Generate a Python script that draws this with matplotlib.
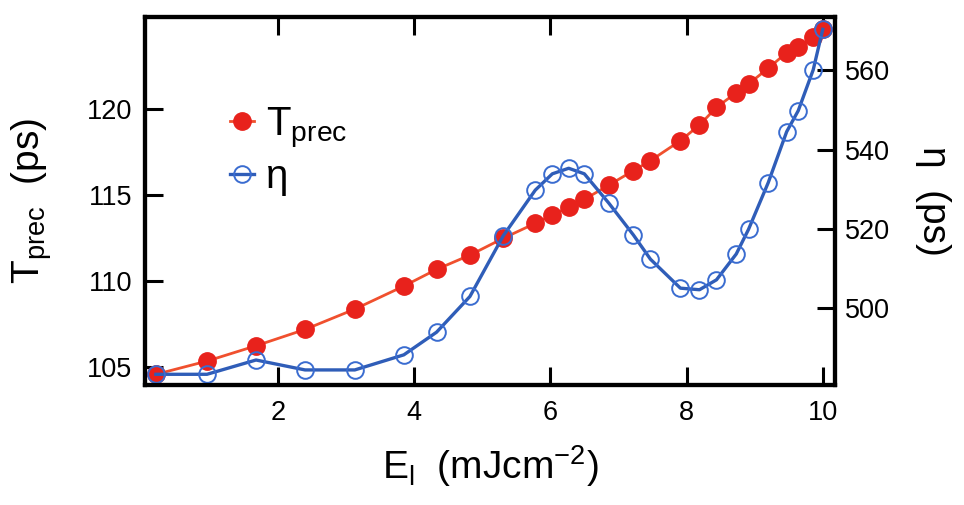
import matplotlib
matplotlib.use('Agg')
import matplotlib.pyplot as plt

plt.rcParams['font.family'] = ['Liberation Sans', 'DejaVu Sans']
plt.rcParams['mathtext.fontset'] = 'custom'
plt.rcParams['mathtext.rm'] = 'Liberation Sans'
plt.rcParams['mathtext.it'] = 'Liberation Sans:italic'

# laser fluence (mJ/cm^2), shared by both series
E_l = [0.21, 0.96, 1.68, 2.40, 3.13, 3.85, 4.33, 4.82, 5.31, 5.78, 6.03, 6.27, 6.50,
       6.86, 7.22, 7.47, 7.91, 8.19, 8.44, 8.73, 8.91, 9.20, 9.47, 9.64, 9.86, 10.00]
# precession period (ps), left axis
T_prec = [104.56, 105.33, 106.22, 107.17, 108.35, 109.69, 110.66, 111.49, 112.47,
          113.34, 113.82, 114.27, 114.73, 115.56, 116.40, 116.98, 118.14, 119.05,
          120.08, 120.93, 121.44, 122.35, 123.26, 123.60, 124.15, 124.62]
# eta (ps), right axis
eta = [483.4, 483.4, 487.0, 484.5, 484.5, 488.3, 494.0, 503.0, 518.3, 529.8, 533.9,
       535.3, 533.9, 526.5, 518.5, 512.4, 505.1, 504.7, 507.2, 513.7, 519.9, 531.7,
       544.5, 549.8, 560.1, 570.3]

xticks = [2, 4, 6, 8, 10]
left_ticks = [105, 110, 115, 120]
right_ticks = [500, 520, 540, 560]

red_line = '#F0502E'
red_dot = '#E8221C'
blue = '#2F5DB8'

fig = plt.figure(figsize=(9.64, 5.05), dpi=100)
ax = fig.add_axes([0.1504, 0.2376, 0.7158, 0.7287])
ax2 = ax.twinx()

l1, = ax.plot(E_l, T_prec, '-', color=red_line, lw=2.0, marker='o', ms=12.5,
              mfc=red_dot, mec=red_dot, label=r'T$_{\mathrm{prec}}$')
l2, = ax2.plot(E_l, eta, '-', color=blue, lw=2.4, marker='o', ms=12, mfc='none',
               mec='#3A6CD0', mew=1.4, label='η')

ax.set_xlim(0.05, 10.18)
ax.set_ylim(103.94, 125.33)
ax2.set_ylim(480.7, 573.4)

ax.set_xticks(xticks)
ax.set_yticks(left_ticks)
ax2.set_yticks(right_ticks)

ax.tick_params(axis='x', direction='in', length=13, width=2.2, top=True,
               labelsize=19.5, pad=11)
ax.tick_params(axis='y', direction='in', length=13, width=2.2, right=False,
               labelsize=19.5, pad=9)
ax2.tick_params(axis='y', direction='in', length=13, width=2.2, labelsize=19.5, pad=7)

for a in (ax, ax2):
    for s in a.spines.values():
        s.set_linewidth(3)

ax.set_xlabel(r'E$_{\mathrm{l}}$  (mJcm$^{\mathrm{-2}}$)', fontsize=28, labelpad=12)
ax.set_ylabel(r'T$_{\mathrm{prec}}$  (ps)', fontsize=28, labelpad=24)
ax2.set_ylabel('η  (ps)', fontsize=28, rotation=270, labelpad=44)

ax2.legend(handles=[l1, l2], loc='upper left', bbox_to_anchor=(0.07, 0.86),
           frameon=False, fontsize=29, handlelength=0.6, handletextpad=0.3,
           labelspacing=0.2)

fig.savefig('out.png', dpi=100)
